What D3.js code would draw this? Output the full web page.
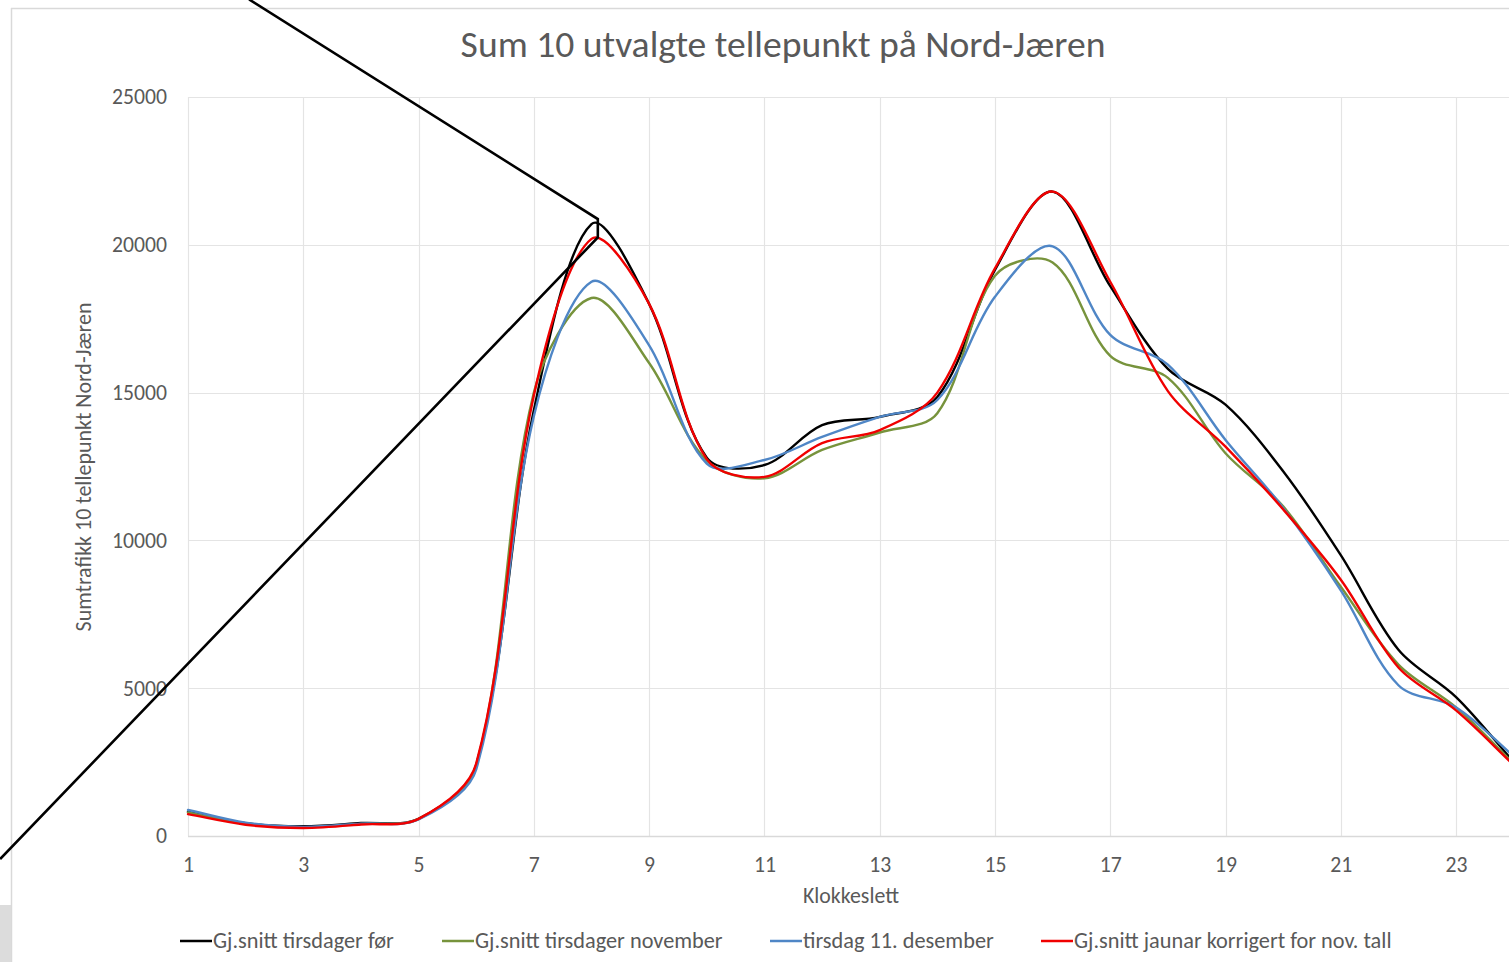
<!DOCTYPE html>
<html>
<head>
<meta charset="utf-8">
<script src="https://cdn.jsdelivr.net/npm/d3@7"></script>
<style>
  html, body { margin: 0; padding: 0; background: #ffffff; }
  svg { display: block; }
  text { font-family: Carlito, Lato, "Open Sans", sans-serif; fill: #595959; }
</style>
</head>
<body>
<svg id="chart" width="1509" height="962"></svg>
<script>
// ---------------- data ----------------
const hours = [1,2,3,4,5,6,7,8,9,10,11,12,13,14,15,16,17,18,19,20,21,22,23,24];
const seriesNames = [
  "Gj.snitt tirsdager før",
  "Gj.snitt tirsdager november",
  "tirsdag 11. desember",
  "Gj.snitt jaunar korrigert for nov. tall"
];
const blackValues = [820, 430, 330, 440, 580, 2400, 14400, 20700, 18000, 12800, 12550, 13900, 14180, 14850, 19150, 21800, 18600, 15800, 14590, 12340, 9500, 6300, 4700, 2500];
const greenValues = [800, 420, 300, 410, 580, 2350, 15000, 18200, 16000, 12700, 12100, 13060, 13650, 14300, 18950, 19400, 16240, 15500, 12950, 11150, 8430, 5800, 4350, 2450];
const blueValues  = [880, 450, 310, 420, 560, 2250, 14200, 18750, 16600, 12600, 12720, 13500, 14180, 14750, 18240, 19950, 16950, 15950, 13400, 11100, 8310, 5100, 4350, 2700];
const redValues   = [740, 380, 270, 390, 580, 2450, 14900, 20200, 18000, 12750, 12150, 13290, 13730, 15000, 19200, 21800, 18750, 15050, 13170, 11050, 8670, 5700, 4250, 2400];
const xTickValues = [1,3,5,7,9,11,13,15,17,19,21,23];
const yTickValues = [0,5000,10000,15000,20000,25000];
const titleText = "Sum 10 utvalgte tellepunkt på Nord-Jæren";
const xTitle = "Klokkeslett";
const yTitle = "Sumtrafikk 10 tellepunkt Nord-Jæren";
// annotation callout (data coordinates: hour, value)
const calloutHours  = [2.06, 8.11, 8.11, -2.26];
const calloutValues = [28300, 20870, 20250, -780];

// ---------------- layout ----------------
const colors = ["#000000", "#77933C", "#4F86C6", "#F00000"];
const svg = d3.select("#chart");
const x = d3.scaleLinear().domain([1, 24]).range([188, 188 + 23 * 57.64]);
const y = d3.scaleLinear().domain([0, 25000]).range([836, 97]);

function fitText(sel, target) {
  const w = sel.node().getComputedTextLength();
  const fs = parseFloat(sel.attr("font-size"));
  const nfs = fs * target / w;
  sel.attr("font-size", nfs);
  return nfs;
}

// Spreadsheet-style smoothing: Bezier control points scaled by chord lengths
function SmoothCurve(context) { this._context = context; }
SmoothCurve.prototype = {
  areaStart() { this._line = 0; },
  areaEnd() { this._line = NaN; },
  lineStart() { this._pts = []; },
  point(px, py) { this._pts.push([+px, +py]); },
  lineEnd() {
    const p = this._pts, n = p.length, c = this._context, t = 1 / 3;
    if (!n) return;
    c.moveTo(p[0][0], p[0][1]);
    const dist = (a, b) => Math.hypot(b[0] - a[0], b[1] - a[1]);
    for (let i = 0; i < n - 1; i++) {
      const P0 = p[Math.max(i - 1, 0)], P1 = p[i], P2 = p[i + 1], P3 = p[Math.min(i + 2, n - 1)];
      const d01 = dist(P0, P1), d12 = dist(P1, P2), d23 = dist(P2, P3);
      const f1 = d01 + d12 > 0 ? t * d12 / (d01 + d12) : 0;
      const f2 = d12 + d23 > 0 ? t * d12 / (d12 + d23) : 0;
      const c1 = [P1[0] + (P2[0] - P0[0]) * f1, P1[1] + (P2[1] - P0[1]) * f1];
      const c2 = [P2[0] - (P3[0] - P1[0]) * f2, P2[1] - (P3[1] - P1[1]) * f2];
      c.bezierCurveTo(c1[0], c1[1], c2[0], c2[1], P2[0], P2[1]);
    }
  }
};
const smoothCurve = ctx => new SmoothCurve(ctx);

// chart-area border and grey corner
svg.append("rect").attr("x", 0).attr("y", 905).attr("width", 11).attr("height", 57).attr("fill", "#dcdcdc");
svg.append("line").attr("x1", 11.5).attr("x2", 11.5).attr("y1", 8).attr("y2", 962)
  .attr("stroke", "#d9d9d9").attr("stroke-width", 1.5);
svg.append("line").attr("x1", 11).attr("x2", 1509).attr("y1", 8.5).attr("y2", 8.5)
  .attr("stroke", "#d9d9d9").attr("stroke-width", 1.5);

// gridlines
const grid = svg.append("g");
grid.selectAll("line.h").data(yTickValues.filter(v => v > 0)).join("line")
  .attr("class", "h")
  .attr("x1", x(1)).attr("x2", x(24))
  .attr("y1", d => Math.round(y(d)) + 0.5).attr("y2", d => Math.round(y(d)) + 0.5)
  .attr("stroke", "#e4e4e4").attr("stroke-width", 1.2);
grid.selectAll("line.v").data(xTickValues).join("line")
  .attr("class", "v")
  .attr("x1", d => Math.round(x(d)) + 0.5).attr("x2", d => Math.round(x(d)) + 0.5)
  .attr("y1", y(25000)).attr("y2", y(0))
  .attr("stroke", "#e4e4e4").attr("stroke-width", 1.2);

// axes
const yAxis = svg.append("g").attr("transform", `translate(${x(1)},0)`)
  .call(d3.axisLeft(y).tickValues(yTickValues).tickSize(0).tickPadding(21).tickFormat(d3.format("d")));
yAxis.select(".domain").remove();
yAxis.selectAll("text").attr("font-size", 20).attr("fill", "#595959")
  .style("font-family", "Carlito, Lato, 'Open Sans', sans-serif");
const topLabel = yAxis.selectAll("text").filter(d => d === 25000);
const tickFs = fitText(topLabel, 55);
yAxis.selectAll("text").attr("font-size", tickFs);

const xAxis = svg.append("g").attr("transform", `translate(0,${y(0)})`)
  .call(d3.axisBottom(x).tickValues(xTickValues).tickSize(0).tickPadding(0).tickFormat(d3.format("d")));
xAxis.select(".domain").attr("stroke", "#d9d9d9").attr("stroke-width", 1.5)
  .attr("d", `M${x(1)},0.5H${x(24)}`);
xAxis.selectAll("text").attr("font-size", tickFs).attr("fill", "#595959")
  .attr("y", 36).attr("dy", 0)
  .style("font-family", "Carlito, Lato, 'Open Sans', sans-serif");

// series
const allSeries = [blackValues, greenValues, blueValues, redValues];
const line = d3.line().x((d, i) => x(hours[i])).y(d => y(d)).curve(smoothCurve);
svg.append("g").selectAll("path").data(allSeries).join("path")
  .attr("d", d => line(d))
  .attr("fill", "none")
  .attr("stroke", (d, i) => colors[i])
  .attr("stroke-width", 2.4)
  .attr("stroke-linejoin", "round")
  .attr("stroke-linecap", "round");

// title
const title = svg.append("text").attr("x", 783).attr("y", 57).attr("text-anchor", "middle")
  .attr("font-size", 36).text(titleText);
fitText(title, 645);

// axis titles
const xt = svg.append("text").attr("x", 851).attr("y", 903).attr("text-anchor", "middle")
  .attr("font-size", 20).text(xTitle);
fitText(xt, 96);
const yt = svg.append("text").attr("transform", "translate(91,467) rotate(-90)").attr("text-anchor", "middle")
  .attr("font-size", 20).text(yTitle);
fitText(yt, 329);

// legend
const legendX = [180, 442, 770, 1041];
const legend = svg.append("g");
let legendFs = null;
seriesNames.forEach((name, i) => {
  const g = legend.append("g").attr("transform", `translate(${legendX[i]},941)`);
  g.append("line").attr("x1", 0).attr("x2", 32).attr("y1", 0).attr("y2", 0)
    .attr("stroke", colors[i]).attr("stroke-width", 2.5);
  const t = g.append("text").attr("x", 33).attr("y", 7).attr("font-size", legendFs || 20).text(name);
  if (i === 0) legendFs = fitText(t, 181);
});

// callout annotation
const callout = d3.line().x((d, i) => x(calloutHours[i])).y(d => y(d));
svg.append("path").attr("d", callout(calloutValues))
  .attr("fill", "none").attr("stroke", "#000").attr("stroke-width", 2.6).attr("stroke-linejoin", "miter");
</script>
</body>
</html>
